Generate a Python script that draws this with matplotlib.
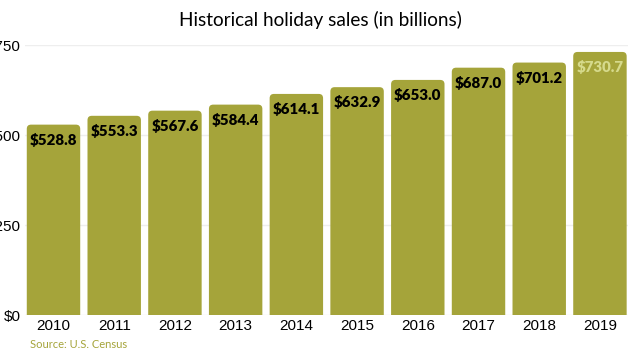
import matplotlib
matplotlib.use("Agg")
import matplotlib.pyplot as plt
from matplotlib.patches import FancyBboxPatch

years = ["2010", "2011", "2012", "2013", "2014", "2015", "2016", "2017", "2018", "2019"]
sales = [528.8, 553.3, 567.6, 584.4, 614.1, 632.9, 653.0, 687.0, 701.2, 730.7]
yticks = [0, 250, 500, 750]
ytick_labels = ["$0", "$250", "$500", "$750"]

bar_color = "#a5a43a"
width = 0.88

fig = plt.figure(figsize=(6.4, 3.6), dpi=100)
ax = fig.add_axes([0.039, 0.125, 0.943, 0.75])
ax.set_xlim(-0.47, 9.47)
ax.set_ylim(0, 750)

# px per data unit, used to keep the corner rounding circular
sx = 0.943 * 640 / (9.47 + 0.47)
sy = 0.75 * 360 / 750.0
for i, v in enumerate(sales):
    p = FancyBboxPatch((i - width / 2, -30), width, v + 30,
                       boxstyle="round,pad=0,rounding_size=0.07",
                       mutation_aspect=sx / sy,
                       facecolor=bar_color, edgecolor="none", zorder=2)
    ax.add_patch(p)
    col = "#d6da8c" if i == len(sales) - 1 else "black"
    ax.annotate("$%.1f" % v, (i, v), xytext=(0, -6), textcoords="offset points",
                ha="center", va="top", fontsize=10.8, fontweight="heavy",
                family="Lato", color=col, zorder=3)

ax.set_yticks(yticks)
ax.set_yticklabels(ytick_labels, family="Liberation Sans", fontsize=11)
ax.set_xticks(range(len(years)))
ax.set_xticklabels(years, family="Liberation Sans", fontsize=11)
ax.tick_params(length=0, pad=3)
ax.grid(axis="y", color="#eeeeee", lw=1, zorder=0)
for s in ax.spines.values():
    s.set_visible(False)

fig.text(0.5, 0.945, "Historical holiday sales (in billions)", ha="center", va="center",
         fontsize=13.7, family="Lato")
fig.text(0.047, 0.042, "Source: U.S. Census", ha="left", va="center",
         fontsize=8, family="Lato", color=bar_color)

fig.savefig("out.png", dpi=100)
